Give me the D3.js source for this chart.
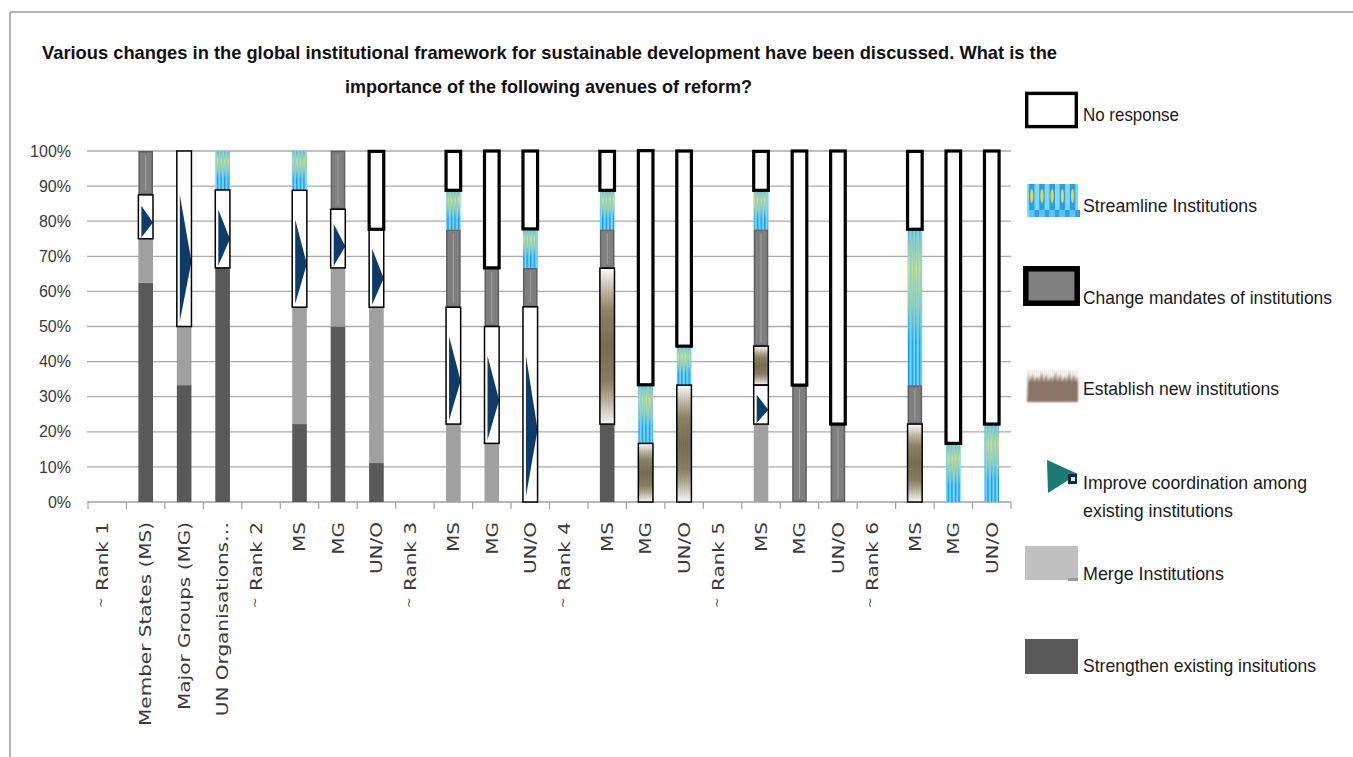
<!DOCTYPE html>
<html>
<head>
<meta charset="utf-8">
<script src="https://cdn.jsdelivr.net/npm/d3@7"></script>
<style>
  body { margin: 0; background: #fff; }
  svg { display: block; }
</style>
</head>
<body>
<svg id="chart" width="1353" height="757"></svg>
<script>
// ---- data (percent of respondents per group and rank) ----
const categories = [
  "~ Rank 1", "Member States (MS)", "Major Groups (MG)", "UN Organisations\u2026",
  "~ Rank 2", "MS", "MG", "UN/O",
  "~ Rank 3", "MS", "MG", "UN/O",
  "~ Rank 4", "MS", "MG", "UN/O",
  "~ Rank 5", "MS", "MG", "UN/O",
  "~ Rank 6", "MS", "MG", "UN/O"
];
const seriesNames = [
  "Strengthen existing insitutions",
  "Merge Institutions",
  "Improve coordination among existing institutions",
  "Establish new institutions",
  "Change mandates of institutions",
  "Streamline Institutions",
  "No response"
];
const strengthen     = [0, 62.5, 33.3, 66.7, 0, 22.2, 50.0, 11.1, 0, 0, 0, 0, 0, 22.2, 0, 0, 0, 0, 0, 0, 0, 0, 0, 0];
const merge          = [0, 12.5, 16.7, 0, 0, 33.3, 16.7, 44.4, 0, 22.2, 16.7, 0, 0, 0, 0, 0, 0, 22.2, 0, 0, 0, 0, 0, 0];
const improve        = [0, 12.5, 50.0, 22.2, 0, 33.3, 16.7, 22.2, 0, 33.3, 33.3, 55.6, 0, 0, 0, 0, 0, 11.1, 0, 0, 0, 0, 0, 0];
const establish      = [0, 0, 0, 0, 0, 0, 0, 0, 0, 0, 0, 0, 0, 44.4, 16.7, 33.3, 0, 11.1, 0, 0, 0, 22.2, 0, 0];
const changeMandates = [0, 12.5, 0, 0, 0, 0, 16.7, 0, 0, 22.2, 16.7, 11.1, 0, 11.1, 0, 0, 0, 33.3, 33.3, 22.2, 0, 11.1, 0, 0];
const streamline     = [0, 0, 0, 11.1, 0, 11.1, 0, 0, 0, 11.1, 0, 11.1, 0, 11.1, 16.7, 11.1, 0, 11.1, 0, 0, 0, 44.4, 16.7, 22.2];
const noResponse     = [0, 0, 0, 0, 0, 0, 0, 22.2, 0, 11.1, 33.3, 22.2, 0, 11.1, 66.7, 55.6, 0, 11.1, 66.7, 77.8, 0, 22.2, 83.3, 77.8];
const yTicks = [0, 10, 20, 30, 40, 50, 60, 70, 80, 90, 100];

const titleLines = [
  "Various changes in the global institutional framework for sustainable development have been discussed. What is the",
  "importance of the following avenues of reform?"
];

// ---- layout ----
const svg = d3.select("#chart");
const defs = svg.append("defs");
const plot = { left: 88, right: 1011, top: 151, bottom: 502 };

const keys = ["strengthen", "merge", "improve", "establish", "change", "streamline", "noResponse"];
const rows = categories.map((c, i) => ({
  i,
  strengthen: strengthen[i], merge: merge[i], improve: improve[i], establish: establish[i],
  change: changeMandates[i], streamline: streamline[i], noResponse: noResponse[i]
}));
const layers = d3.stack().keys(keys)(rows);

const x = d3.scaleBand().domain(d3.range(categories.length))
  .range([plot.left, plot.right]).paddingInner(0.62).paddingOuter(0.31);
const y = d3.scaleLinear().domain([0, 100]).range([plot.bottom, plot.top]);

// ---- fills: gradients, patterns, masks ----
function vGrad(id, stops) {
  const g = defs.append("linearGradient").attr("id", id)
    .attr("x1", 0).attr("y1", 0).attr("x2", 0).attr("y2", 1);
  stops.forEach(([o, c]) => g.append("stop").attr("offset", o).attr("stop-color", c));
}
vGrad("estGrad", [[0, "#fbfbfb"], [0.1, "#d9d7d0"], [0.28, "#848169"], [0.5, "#676650"], [0.72, "#7e7b64"], [0.9, "#d5d3cc"], [1, "#f7f7f7"]]);
vGrad("midMaskGrad", [[0, "#000"], [0.18, "#fff"], [0.82, "#fff"], [1, "#000"]]);
vGrad("yelMaskGrad", [[0, "#555"], [0.25, "#fff"], [0.5, "#999"], [0.72, "#000"], [1, "#000"]]);

const estLines = defs.append("pattern").attr("id", "estLines")
  .attr("patternUnits", "userSpaceOnUse").attr("width", 4).attr("height", 10);
estLines.append("rect").attr("x", 0.4).attr("width", 1).attr("height", 10).attr("fill", "#c0744c").attr("opacity", 0.55);
estLines.append("rect").attr("x", 2.4).attr("width", 0.9).attr("height", 10).attr("fill", "#6f9a6c").attr("opacity", 0.45);

const streamStripes = defs.append("pattern").attr("id", "streamStripes")
  .attr("patternUnits", "userSpaceOnUse").attr("width", 3.6).attr("height", 10);
streamStripes.append("rect").attr("width", 3.6).attr("height", 10).attr("fill", "#6fd8ff");
streamStripes.append("rect").attr("x", 0.8).attr("width", 1.5).attr("height", 10).attr("fill", "#1f9ae6");

const streamYellow = defs.append("pattern").attr("id", "streamYellow")
  .attr("patternUnits", "userSpaceOnUse").attr("width", 3.6).attr("height", 10);
streamYellow.append("rect").attr("x", 0.5).attr("width", 2.1).attr("height", 10).attr("fill", "#e9df6c");

function bboxMask(id, grad) {
  const m = defs.append("mask").attr("id", id).attr("maskContentUnits", "objectBoundingBox");
  m.append("rect").attr("width", 1).attr("height", 1).attr("fill", `url(#${grad})`);
}
bboxMask("midMask", "midMaskGrad");
bboxMask("yelMask", "yelMaskGrad");

defs.append("filter").attr("id", "soft").attr("x", "-20%").attr("y", "-20%").attr("width", "140%").attr("height", "140%")
  .append("feGaussianBlur").attr("stdDeviation", 0.6);
defs.append("filter").attr("id", "softer").attr("x", "-20%").attr("y", "-20%").attr("width", "140%").attr("height", "140%")
  .append("feGaussianBlur").attr("stdDeviation", 1.1);

// ---- frame ----
svg.append("line").attr("x1", 10).attr("x2", 1353).attr("y1", 12).attr("y2", 12)
  .attr("stroke", "#9c9c9c").attr("stroke-width", 1.5);
svg.append("line").attr("x1", 10).attr("x2", 10).attr("y1", 12).attr("y2", 757)
  .attr("stroke", "#9c9c9c").attr("stroke-width", 1.5);

// ---- title ----
const titleFont = "'Liberation Sans', Arial, sans-serif";
svg.append("text").attr("x", 42).attr("y", 59).attr("textLength", 1015).attr("lengthAdjust", "spacingAndGlyphs")
  .attr("font-family", titleFont).attr("font-weight", "bold").attr("font-size", 19).attr("fill", "#111")
  .text(titleLines[0]);
svg.append("text").attr("x", 345).attr("y", 93).attr("textLength", 407).attr("lengthAdjust", "spacingAndGlyphs")
  .attr("font-family", titleFont).attr("font-weight", "bold").attr("font-size", 19).attr("fill", "#111")
  .text(titleLines[1]);

// ---- gridlines ----
svg.append("g").selectAll("line").data(yTicks.filter(d => d > 0)).join("line")
  .attr("x1", plot.left - 1).attr("x2", plot.right)
  .attr("y1", d => y(d)).attr("y2", d => y(d))
  .attr("stroke", "#ababab").attr("stroke-width", 1.3);

// ---- y axis ----
const gy = svg.append("g").attr("transform", `translate(${plot.left},0)`)
  .call(d3.axisLeft(y).tickValues(yTicks).tickFormat(d => d + "%").tickSize(0).tickPadding(17));
gy.select(".domain").remove();
gy.selectAll("text").attr("font-family", "'Liberation Sans', Arial, sans-serif")
  .attr("font-size", 16).attr("fill", "#3a3a3a");

// ---- x axis: baseline, boundary ticks, rotated labels ----
svg.append("line").attr("x1", plot.left - 1).attr("x2", plot.right)
  .attr("y1", plot.bottom).attr("y2", plot.bottom).attr("stroke", "#a0a0a0").attr("stroke-width", 1.3);
const gap = (x.step() - x.bandwidth()) / 2;
const bounds = d3.range(categories.length).map(i => x(i) - gap).concat([plot.right]);
svg.append("g").selectAll("line").data(bounds).join("line")
  .attr("x1", d => d).attr("x2", d => d).attr("y1", plot.bottom).attr("y2", plot.bottom + 7)
  .attr("stroke", "#a0a0a0").attr("stroke-width", 1.2);

const gx = svg.append("g").attr("transform", `translate(0,${plot.bottom})`)
  .call(d3.axisBottom(x).tickSize(0).tickFormat(i => categories[i]));
gx.select(".domain").remove();
gx.selectAll("text")
  .attr("transform", "rotate(-90) scale(1.25,1)")
  .attr("x", -16).attr("y", 0).attr("dy", "0.36em")
  .attr("text-anchor", "end")
  .attr("font-family", "'DejaVu Sans', sans-serif").attr("font-size", 16).attr("fill", "#3a3a3a")
  .each(function () {
    const t = d3.select(this);
    const s = t.text();
    if (s.startsWith("~ ")) {
      t.text(null);
      t.append("tspan").attr("font-size", 10).attr("dy", "-0.2em").text("~");
      t.append("tspan").attr("dy", "0.2em").text(s.slice(1));
    }
  });

// ---- stacked bars ----
const bw = x.bandwidth();
const segs = layers.map(layer => ({
  key: layer.key,
  items: layer.filter(d => d[1] - d[0] > 0).map(d => ({
    x: x(d.data.i), y: y(d[1]), h: y(d[0]) - y(d[1])
  }))
}));
const seg = k => segs.find(s => s.key === k).items;
const bars = svg.append("g");

function plain(k, fill) {
  bars.append("g").selectAll("rect").data(seg(k)).join("rect")
    .attr("x", d => d.x).attr("y", d => d.y).attr("width", bw).attr("height", d => d.h)
    .attr("fill", fill);
}
plain("strengthen", "#595959");
plain("merge", "#a0a0a0");

// improve coordination: white block with a navy arrow
const gImp = bars.append("g");
gImp.selectAll("rect").data(seg("improve")).join("rect")
  .attr("x", d => d.x).attr("y", d => d.y).attr("width", bw).attr("height", d => d.h).attr("fill", "#fff");
gImp.selectAll("path").data(seg("improve")).join("path")
  .attr("d", d => `M${d.x + 3},${d.y + d.h * 0.25} L${d.x + bw},${d.y + d.h * 0.63} L${d.x + 3},${d.y + d.h * 0.97} Z`)
  .attr("fill", "#0b3a6b").attr("filter", "url(#soft)");

// establish new institutions: faded textured block
const gEst = bars.append("g");
gEst.selectAll("rect.base").data(seg("establish")).join("rect").attr("class", "base")
  .attr("x", d => d.x).attr("y", d => d.y).attr("width", bw).attr("height", d => d.h).attr("fill", "url(#estGrad)");
gEst.selectAll("rect.lines").data(seg("establish")).join("rect").attr("class", "lines")
  .attr("x", d => d.x).attr("y", d => d.y).attr("width", bw).attr("height", d => d.h)
  .attr("fill", "url(#estLines)").attr("mask", "url(#midMask)");

// change mandates: grey block with a light centre line
const gChg = bars.append("g");
gChg.selectAll("rect").data(seg("change")).join("rect")
  .attr("x", d => d.x + 0.75).attr("y", d => d.y + 0.75).attr("width", bw - 1.5).attr("height", d => d.h - 1.5)
  .attr("fill", "#7f7f7f").attr("stroke", "#5f5f5f").attr("stroke-width", 1.5);
gChg.selectAll("line").data(seg("change")).join("line")
  .attr("x1", d => d.x + bw / 2).attr("x2", d => d.x + bw / 2)
  .attr("y1", d => d.y + 4).attr("y2", d => d.y + d.h - 4)
  .attr("stroke", "#a3a3a3").attr("stroke-width", 1);

// streamline: blue stripes with a yellow glow in the upper part
const gStr = bars.append("g");
gStr.selectAll("rect.base").data(seg("streamline")).join("rect").attr("class", "base")
  .attr("x", d => d.x).attr("y", d => d.y).attr("width", bw).attr("height", d => d.h).attr("fill", "url(#streamStripes)");
gStr.selectAll("rect.glow").data(seg("streamline")).join("rect").attr("class", "glow")
  .attr("x", d => d.x).attr("y", d => d.y).attr("width", bw).attr("height", d => d.h)
  .attr("fill", "url(#streamYellow)").attr("mask", "url(#yelMask)");

// no response: white fill, heavy black outline
plain("noResponse", "#fff");

// outlines on top
const outlines = svg.append("g").attr("fill", "none");
[["improve", 1.5], ["establish", 1.5], ["noResponse", 3.2]].forEach(([k, w]) => {
  outlines.append("g").selectAll("rect").data(seg(k)).join("rect")
    .attr("x", d => d.x).attr("y", d => d.y).attr("width", bw).attr("height", d => d.h)
    .attr("stroke", "#000").attr("stroke-width", w);
});

// ---- legend ----
const legendFont = "'Liberation Sans', Arial, sans-serif";
const lg = svg.append("g");
function legendText(str, yBase, width) {
  lg.append("text").attr("x", 1083).attr("y", yBase).attr("textLength", width).attr("lengthAdjust", "spacingAndGlyphs")
    .attr("font-family", legendFont).attr("font-size", 19).attr("fill", "#1a1a1a").text(str);
}

// No response
lg.append("rect").attr("x", 1026.7).attr("y", 93.4).attr("width", 49.6).attr("height", 33.2)
  .attr("fill", "#fff").attr("stroke", "#000").attr("stroke-width", 3.4);
legendText(seriesNames[6], 121, 96);

// Streamline
const sw = lg.append("g");
sw.append("rect").attr("x", 1027).attr("y", 184).attr("width", 51).attr("height", 33).attr("fill", "#78dcff");
d3.range(5).forEach(j => {
  const cx = 1029 + j * 10.2;
  sw.append("rect").attr("x", cx).attr("y", 184).attr("width", 5.5).attr("height", 26).attr("fill", "#2f9fe6");
  sw.append("ellipse").attr("cx", cx + 2.75).attr("cy", 196).attr("rx", 1.6).attr("ry", 7).attr("fill", "#f0d040");
  sw.append("rect").attr("x", cx).attr("y", 210).attr("width", 5.5).attr("height", 7).attr("fill", "#56c8ff");
  sw.append("rect").attr("x", cx + 5.5).attr("y", 210).attr("width", 4.7).attr("height", 7).attr("fill", "#2f9fe6");
});
sw.attr("filter", "url(#soft)");
legendText(seriesNames[5], 212, 174);

// Change mandates
lg.append("rect").attr("x", 1025.8).attr("y", 268.8).attr("width", 51.4).attr("height", 34.4)
  .attr("fill", "#808080").attr("stroke", "#000").attr("stroke-width", 5.5);
legendText(seriesNames[4], 304, 249);

// Establish new institutions: jagged brown texture
const spikes = [];
spikes.push([1027, 402]);
d3.range(11).forEach(j => {
  const x0 = 1027 + j * 4.6;
  spikes.push([x0 + 1.2, 372 + (j % 3) * 2]);
  spikes.push([x0 + 2.6, 382]);
});
spikes.push([1078, 376], [1078, 402]);
lg.append("path").attr("d", "M" + spikes.map(p => p.join(",")).join("L") + "Z")
  .attr("fill", "#86716a").attr("filter", "url(#softer)");
lg.append("rect").attr("x", 1027).attr("y", 370).attr("width", 51).attr("height", 32)
  .attr("fill", "url(#estLines)").attr("opacity", 0.5);
legendText(seriesNames[3], 395, 196);

// Improve coordination
lg.append("path").attr("d", "M1047,460 L1078,474 L1048,493 Z").attr("fill", "#1a7a73").attr("filter", "url(#soft)");
lg.append("rect").attr("x", 1068).attr("y", 474).attr("width", 9).attr("height", 10).attr("fill", "#0e2550");
lg.append("rect").attr("x", 1071).attr("y", 477).attr("width", 4).attr("height", 4).attr("fill", "#dfe6f0");
legendText("Improve coordination among", 489, 224);
legendText("existing institutions", 517, 150);

// Merge
lg.append("rect").attr("x", 1025).attr("y", 546).attr("width", 53).attr("height", 34).attr("fill", "#c0c0c0");
lg.append("rect").attr("x", 1068).attr("y", 578).attr("width", 10).attr("height", 3).attr("fill", "#9a9a9a");
legendText(seriesNames[1], 580, 141);

// Strengthen
lg.append("rect").attr("x", 1025).attr("y", 639).attr("width", 53).attr("height", 35).attr("fill", "#595959");
legendText(seriesNames[0], 672, 233);
</script>
</body>
</html>
